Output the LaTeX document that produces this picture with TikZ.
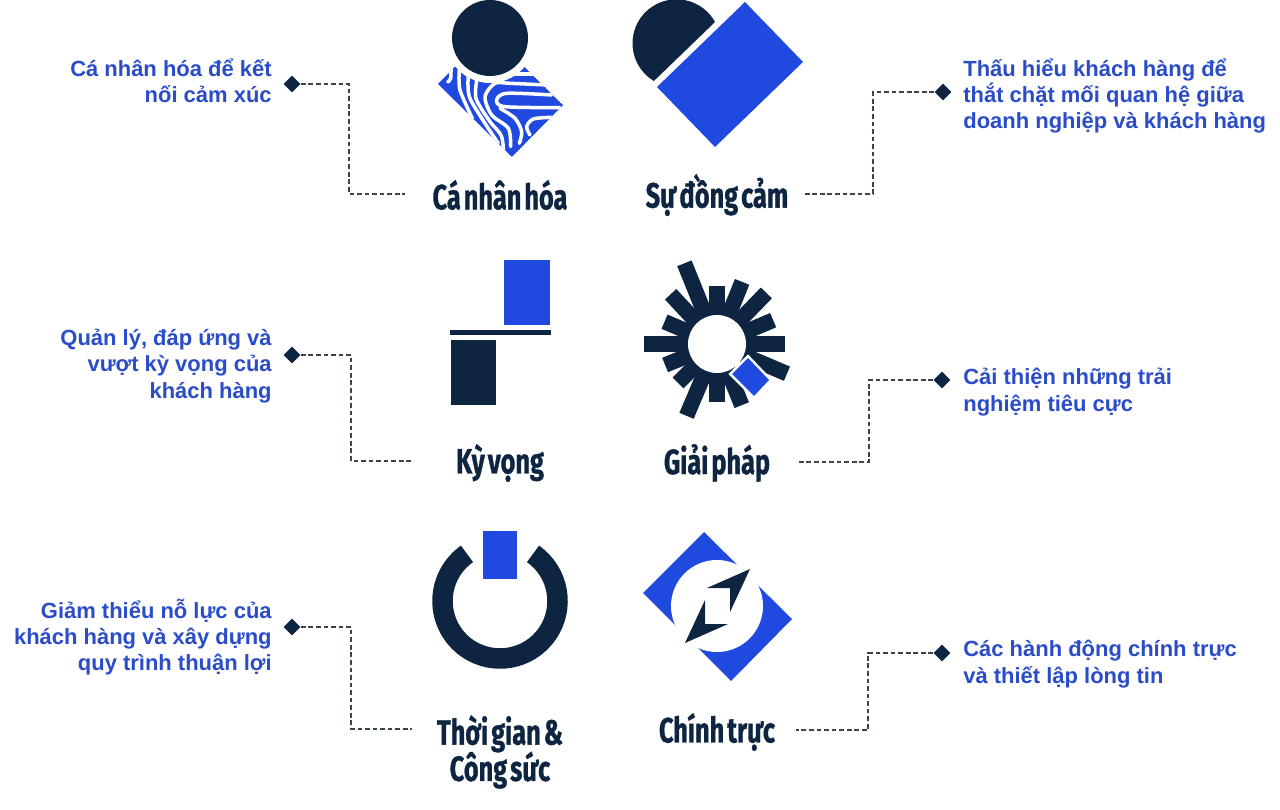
\documentclass[tikz,border=0pt]{standalone}
\usepackage{fontspec}
\usepackage{tikz}
\usetikzlibrary{shapes.geometric}
\setmainfont{Liberation Sans}
\newfontfamily\titlefont[FakeStretch=0.72, FakeBold=0.9, WordSpace=0.5]{Fira Sans}
\definecolor{navy}{HTML}{0D2540}
\definecolor{blue}{HTML}{2049E0}
\definecolor{ink}{HTML}{2A4CC8}
\definecolor{wire}{HTML}{3A4450}
\tikzstyle{dot} = [diamond, minimum size=0.34cm, inner sep=0pt, fill=navy]
\tikzstyle{lefttext} = [anchor=east, align=right, inner sep=0pt, text=ink, font=\fontsize{12.5}{15}\selectfont\bfseries]
\tikzstyle{righttext} = [anchor=west, align=left, inner sep=0pt, text=ink, font=\fontsize{12.5}{15}\selectfont\bfseries]
\tikzstyle{title} = [align=center, inner sep=0pt, text=navy, font=\fontsize{20}{20}\selectfont\titlefont\bfseries]
\tikzstyle{link} = [wire, line width=0.6pt, dash pattern=on 2.7pt off 1.6pt]
\tikzstyle{stripe} = [white, line width=0.07cm, line cap=round]
\begin{document}
\begin{tikzpicture}[x=0.02cm, y=-0.02cm]
  \useasboundingbox (0,0) rectangle (1280,810);

  \node (dot1) [dot] at (292,84) {};
  \node (dot2) [dot] at (943,92) {};
  \node (dot3) [dot] at (292,355) {};
  \node (dot4) [dot] at (942,380) {};
  \node (dot5) [dot] at (292,627) {};
  \node (dot6) [dot] at (942,653) {};

  \node (txt1) [lefttext] at (272,81) {Cá nhân hóa để kết\\nối cảm xúc};
  \node (txt2) [righttext] at (963,96) {Thấu hiểu khách hàng để\\thắt chặt mối quan hệ giữa\\doanh nghiệp và khách hàng};
  \node (txt3) [lefttext] at (272,366) {Quản lý, đáp ứng và\\vượt kỳ vọng của\\khách hàng};
  \node (txt4) [righttext] at (963,392) {Cải thiện những trải\\nghiệm tiêu cực};
  \node (txt5) [lefttext] at (272,637) {Giảm thiểu nỗ lực của\\khách hàng và xây dựng\\quy trình thuận lợi};
  \node (txt6) [righttext] at (963,664) {Các hành động chính trực\\và thiết lập lòng tin};

  \node (title1) [title] at (500,195) {Cá nhân hóa};
  \node (title2) [title] at (717,195) {Sự đồng cảm};
  \node (title3) [title] at (500,463) {Kỳ vọng};
  \node (title4) [title] at (717,463) {Giải pháp};
  \node (title5) [title] at (500,752) {Thời gian \&\\[-1.5pt]Công sức};
  \node (title6) [title] at (717,732) {Chính trực};

  \coordinate (end1) at (405,194);
  \coordinate (end2) at (804,194);
  \coordinate (end3) at (412,461);
  \coordinate (end4) at (797,462);
  \coordinate (end5) at (412,729);
  \coordinate (end6) at (796,730);

  \draw [link] (dot1) -- ++(57,0) |- (end1);
  \draw [link] (dot2) -- ++(-70,0) |- (end2);
  \draw [link] (dot3) -- ++(59,0) |- (end3);
  \draw [link] (dot4) -- ++(-73,0) |- (end4);
  \draw [link] (dot5) -- ++(59,0) |- (end5);
  \draw [link] (dot6) -- ++(-74,0) |- (end6);

  % stripes
  \begin{scope}
    \clip (438,84) -- (489,32) -- (563,105) -- (512,157) -- cycle;
    \fill [blue] (438,84) -- (489,32) -- (563,105) -- (512,157) -- cycle;
    \begin{scope}[shift={(435,60)}, x=0.00667cm, y=-0.00667cm]
      \draw [stripe] plot[smooth] coordinates {(48,20) (47,55) (38,66)};
      \draw [stripe] plot[smooth] coordinates {(73,30) (75,90) (112,175)};
      \draw [stripe] plot[smooth] coordinates {(100,40) (103,110) (150,190) (190,250)};
    \end{scope}
    \begin{scope}[shift={(480,65)}, x=0.00667cm, y=-0.00667cm]
      \draw [stripe] plot[smooth] coordinates {(-8,35) (-12,100) (30,170) (65,215) (72,290)};
      \draw [stripe] plot[smooth] coordinates {(100,27) (165,27)};
      \draw [stripe] plot[smooth] coordinates {(200,60) (90,55) (45,55) (15,95) (35,150) (85,190) (92,245)};
      \draw [stripe] plot[smooth] coordinates {(215,90) (80,85) (50,105) (75,125) (240,128)};
      \draw [stripe] plot[smooth] coordinates {(215,157) (160,162) (140,185) (150,210)};
      \draw [stripe] plot[smooth] coordinates {(60,130) (105,160) (125,200) (118,235)};
    \end{scope}
  \end{scope}
  \fill [white] (490,38) circle [radius=45];
  \fill [navy] (490,38) circle [radius=38];

  % heart
  \fill [navy] (715,22) arc [start angle=-29, end angle=-239, radius=44] -- cycle;
  \fill [blue] (745,2) -- (803,62) -- (715,147) -- (657,87) -- cycle;

  % bars
  \fill [blue] (504,260) rectangle (550,325);
  \fill [navy] (450,330) rectangle (551,335);
  \fill [navy] (451,340) rectangle (496,405);

  % sun
  \begin{scope}[shift={(717,344)}]
    \foreach \ang/\len in {180/73, 0/68, -90/58, 90/58, -112/87, -133/68, -157/57, 158/56, 135/55, 113/78, 68/66, 23/76, -23/61, -46/71, -68/67}
      \draw [navy, line width=0.31cm] (0,0) -- (\ang:\len);
    \fill [white] (0,0) circle [radius=29];
    \filldraw [white, line width=0.1cm] (31,14) -- (52,36) -- (37,52) -- (15,30) -- cycle;
    \fill [blue] (31,14) -- (52,36) -- (37,52) -- (15,30) -- cycle;
  \end{scope}

  % power
  \draw [navy, line width=0.41cm] (500,601) ++(-55:57.5) arc [start angle=-55, end angle=235, radius=57.5];
  \fill [blue] (483,531) rectangle (517,579);

  % compass
  \fill [blue] (704,532) -- (792,619) -- (731,681) -- (643,593) -- cycle;
  \fill [white] (717,606) circle [radius=46];
  \fill [navy] (750,569) -- (707,588) -- (730,588) -- (730,612) -- cycle;
  \fill [navy] (685,643) -- (728,624) -- (705,624) -- (705,600) -- cycle;
\end{tikzpicture}
\end{document}
